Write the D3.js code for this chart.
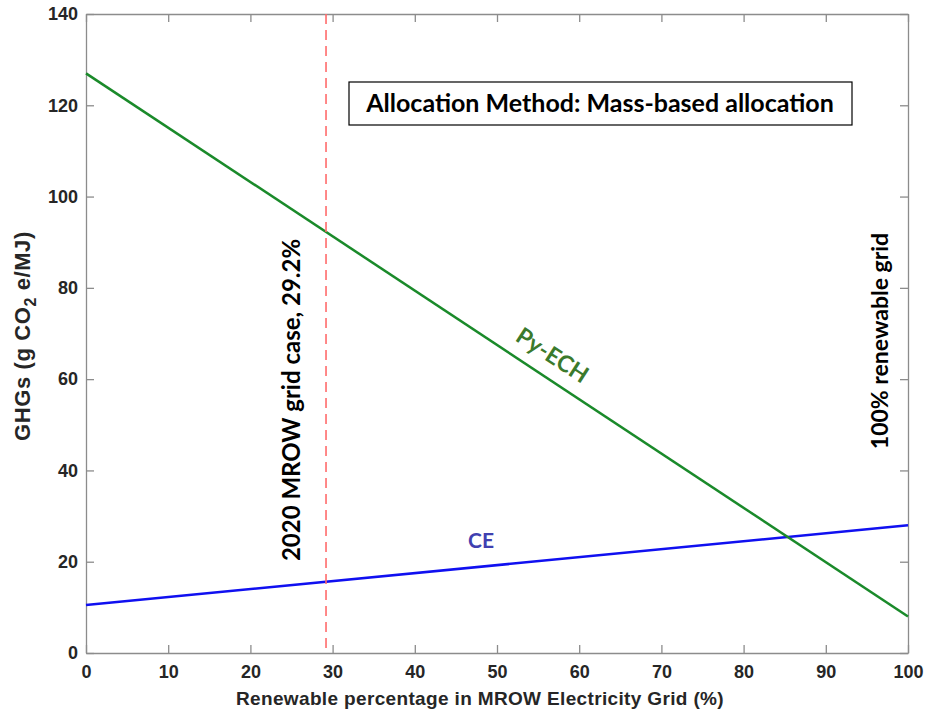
<!DOCTYPE html>
<html><head><meta charset="utf-8">
<script src="https://cdn.jsdelivr.net/npm/d3@7"></script>
<style>body{margin:0;background:#fff}svg{display:block}</style>
</head><body>
<svg id="c" width="928" height="713"></svg>
<script>
const renewablePct = [0, 100];
const pyECH = [127, 8];
const ce = [10.5, 28];
const gridCase2020 = 29.2;
const xTicks = [0,10,20,30,40,50,60,70,80,90,100];
const yTicks = [0,20,40,60,80,100,120,140];

const svg = d3.select("#c");
const L=86,R=908,T=14,B=653;
const x = d3.scaleLinear().domain([0,100]).range([L,R]);
const y = d3.scaleLinear().domain([0,140]).range([B,T]);
const axisCol="#8c8c8c", txtCol="#262626";
const tf = "Helvetica, Arial, 'Liberation Sans', sans-serif";
const cf = "Lato, 'Open Sans', sans-serif";

function styleAxis(g){
  g.select(".domain").attr("stroke",axisCol).attr("stroke-width",1.3);
  g.selectAll(".tick line").attr("stroke",axisCol).attr("stroke-width",1.3);
  g.selectAll(".tick text").attr("fill",txtCol).attr("font-family",tf).attr("font-size",18).attr("font-weight","bold");
}
svg.append("g").attr("transform",`translate(0,${B})`)
  .call(d3.axisBottom(x).tickValues(xTicks).tickSizeInner(-8).tickSizeOuter(0).tickPadding(12)).call(styleAxis);
svg.append("g").attr("transform",`translate(0,${T})`)
  .call(d3.axisTop(x).tickValues(xTicks).tickSizeInner(-8).tickSizeOuter(0).tickFormat("")).call(styleAxis);
svg.append("g").attr("transform",`translate(${L},0)`)
  .call(d3.axisLeft(y).tickValues(yTicks).tickSizeInner(-8).tickSizeOuter(0).tickPadding(8)).call(styleAxis);
svg.append("g").attr("transform",`translate(${R},0)`)
  .call(d3.axisRight(y).tickValues(yTicks).tickSizeInner(-8).tickSizeOuter(0).tickFormat("")).call(styleAxis);

// lines
const line = d3.line().x((d,i)=>x(renewablePct[i])).y(d=>y(d));
svg.append("path").datum(ce).attr("d",line).attr("fill","none").attr("stroke","#1010f0").attr("stroke-width",2.5);
svg.append("path").datum(pyECH).attr("d",line).attr("fill","none").attr("stroke","#1a8a2a").attr("stroke-width",2.5);
svg.append("line").attr("x1",x(gridCase2020)).attr("x2",x(gridCase2020)).attr("y1",T).attr("y2",B)
  .attr("stroke","#ff6b6b").attr("stroke-width",1.6).attr("stroke-dasharray","10,6");

// axis labels
svg.append("text").attr("x",480).attr("y",705).attr("text-anchor","middle")
  .attr("font-family",tf).attr("font-size",19).attr("letter-spacing",0.35).attr("font-weight","bold").attr("fill",txtCol)
  .text("Renewable percentage in MROW Electricity Grid (%)");
const yl = svg.append("text").attr("transform","translate(30,336) rotate(-90)").attr("text-anchor","middle")
  .attr("font-family",tf).attr("font-size",22).attr("letter-spacing",0.6).attr("font-weight","bold").attr("fill",txtCol);
yl.append("tspan").text("GHGs (g CO");
yl.append("tspan").attr("dy",6).attr("font-size",16).text("2");
yl.append("tspan").attr("dy",-6).text(" e/MJ)");

// annotation box
svg.append("rect").attr("x",349).attr("y",82).attr("width",503).attr("height",43)
  .attr("fill","#fff").attr("stroke","#000").attr("stroke-width",1.2);
svg.append("text").attr("x",600).attr("y",112).attr("text-anchor","middle")
  .attr("font-family",cf).attr("font-size",25).attr("font-weight","bold").attr("fill","#000")
  .text("Allocation Method: Mass-based allocation");

svg.append("text").attr("transform","translate(300,400) rotate(-90)").attr("text-anchor","middle")
  .attr("font-family",cf).attr("font-size",24).attr("font-weight","bold").attr("fill","#000")
  .text("2020 MROW grid case, 29.2%");
svg.append("text").attr("transform","translate(888,341) rotate(-90)").attr("text-anchor","middle")
  .attr("font-family",cf).attr("font-size",23).attr("font-weight","bold").attr("fill","#000")
  .text("100% renewable grid");
svg.append("text").attr("transform","translate(548,362) rotate(33)").attr("text-anchor","middle")
  .attr("font-family",cf).attr("font-size",23).attr("font-weight","bold").attr("fill","#3b7a2c")
  .text("Py-ECH");
svg.append("text").attr("x",481).attr("y",548).attr("text-anchor","middle")
  .attr("font-family",cf).attr("font-size",21).attr("font-weight","bold").attr("fill","#4040b0")
  .text("CE");
</script>
</body></html>
